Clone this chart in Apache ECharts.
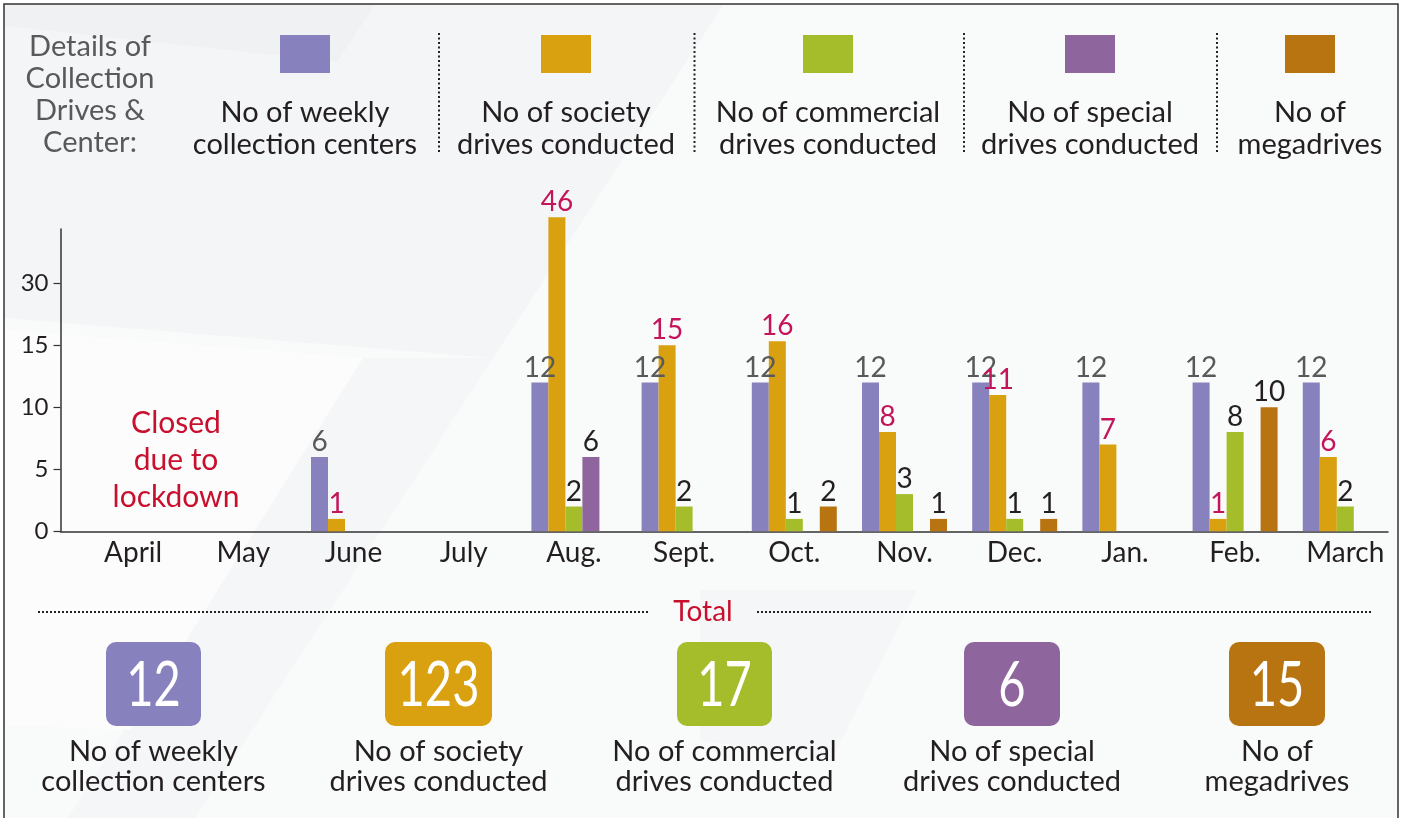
<!DOCTYPE html>
<html>
<head>
<meta charset="utf-8">
<script src="https://cdn.jsdelivr.net/npm/echarts@6/dist/echarts.min.js"></script>
<style>
html,body{margin:0;padding:0;background:#fff;}
#c{width:1405px;height:818px;}
</style>
</head>
<body>
<div id="c"></div>
<script>
// ---------------- DATA ----------------
const months = ['April','May','June','July','Aug.','Sept.','Oct.','Nov.','Dec.','Jan.','Feb.','March'];
const weekly     = [null, null, 6, null, 12, 12, 12, 12, 12, 12, 12, 12];
const society    = [null, null, 1, null, 46, 15, 16, 8, 11, 7, 1, 6];
const commercial = [null, null, null, null, 2, 2, 1, 3, 1, null, 8, 2];
const special    = [null, null, null, null, 6, null, null, null, null, null, null, null];
const mega       = [null, null, null, null, null, null, 2, 1, 1, null, 10, null];
const totals     = [12, 123, 17, 6, 15];
const seriesNames = ['No of weekly\ncollection centers', 'No of society\ndrives conducted',
                     'No of commercial\ndrives conducted', 'No of special\ndrives conducted', 'No of\nmegadrives'];
const yTickLabels = [0, 5, 10, 15, 30];
const titleText = 'Details of\nCollection\nDrives &\nCenter:';
const closedText = 'Closed\ndue to\nlockdown';
const totalText = 'Total';

// ---------------- SCALE (broken axis: above 15 compressed 3x) ----------------
const BREAK = 15, SQUEEZE = 3;
function toAxis(v){ return v == null ? null : (v <= BREAK ? v : BREAK + (v - BREAK) / SQUEEZE); }
function fromAxis(a){ return a <= BREAK ? a : BREAK + (a - BREAK) * SQUEEZE; }

// ---------------- STYLE ----------------
const FONT = 'Lato';
const colors = ['#8781bd', '#d9a00f', '#a5bd2a', '#8e659c', '#b87411'];
const labelColors = ['#58595b', '#c4145a', '#231f20', '#231f20', '#231f20'];
const seriesData = [weekly, society, commercial, special, mega];

const chart = echarts.init(document.getElementById('c'), null, {renderer: 'canvas'});

const g = [];
// background
g.push({type:'rect', z:-20, silent:true, shape:{x:0,y:0,width:1405,height:818}, style:{fill:'#ffffff'}});
g.push({type:'rect', z:-19, silent:true, shape:{x:4,y:4,width:1394,height:830}, style:{fill:'#f9fafa'}});
g.push({type:'polygon', z:-18, silent:true, shape:{points:[[4,26],[337,62],[376,4],[724,4],[493,358],[4,318]]}, style:{fill:'#f4f5f6'}});
g.push({type:'polygon', z:-18, silent:true, shape:{points:[[4,4],[376,4],[337,62],[4,26]]}, style:{fill:'#f0f1f2'}});
g.push({type:'polygon', z:-18, silent:true, shape:{points:[[363,358],[493,358],[195,818],[68,818]]}, style:{fill:'#f5f6f7'}});
g.push({type:'polygon', z:-18, silent:true, shape:{points:[[4,330],[363,358],[130,730],[4,725]]}, style:{fill:'#fcfcfc'}});
g.push({type:'polygon', z:-18, silent:true, shape:{points:[[700,590],[917,590],[831,760],[700,740]]}, style:{fill:'#f5f6f7'}});
// frame
g.push({type:'rect', z:50, silent:true, shape:{x:4,y:4,width:1394,height:830}, style:{fill:null, stroke:'#333', lineWidth:1.5}});

// top-left title
g.push({type:'text', z:10, style:{text:titleText, x:90, y:95, align:'center', verticalAlign:'middle',
  fontFamily:FONT, fontSize:29, lineHeight:32, fill:'#58595b'}});

// legend
const legendCX = [305, 566, 828, 1090, 1310];
legendCX.forEach((cx, k) => {
  g.push({type:'rect', z:10, shape:{x:cx-25, y:35, width:50, height:38}, style:{fill:colors[k]}});
  g.push({type:'text', z:10, style:{text:seriesNames[k], x:cx, y:129, align:'center', verticalAlign:'middle',
    fontFamily:FONT, fontSize:29, lineHeight:32, fill:'#231f20'}});
});
[439, 694.5, 964, 1217].forEach(x => {
  g.push({type:'line', z:10, shape:{x1:x, y1:33, x2:x, y2:153}, style:{stroke:'#222', lineWidth:2, lineDash:[2,2.5]}});
});

// closed note
g.push({type:'text', z:10, style:{text:closedText, x:176, y:460, align:'center', verticalAlign:'middle',
  fontFamily:FONT, fontSize:30, lineHeight:37, fill:'#c8102e'}});

// total header
g.push({type:'text', z:10, style:{text:totalText, x:703, y:612, align:'center', verticalAlign:'middle',
  fontFamily:FONT, fontSize:28, fill:'#c8102e'}});
g.push({type:'line', z:10, shape:{x1:38, y1:612, x2:650, y2:612}, style:{stroke:'#222', lineWidth:2, lineDash:[2,2]}});
g.push({type:'line', z:10, shape:{x1:757, y1:612, x2:1372, y2:612}, style:{stroke:'#222', lineWidth:2, lineDash:[2,2]}});

// total boxes
const boxes = [[106,201],[385,492],[677,772],[964,1060],[1229,1325]];
boxes.forEach((b, k) => {
  const cx = (b[0] + b[1]) / 2;
  g.push({type:'rect', z:10, shape:{x:b[0], y:642, width:b[1]-b[0], height:84, r:10}, style:{fill:colors[k]}});
  g.push({type:'text', z:11, x:cx, y:686, scaleX:0.76, style:{text:String(totals[k]), x:0, y:0, align:'center', verticalAlign:'middle',
    fontFamily:FONT, fontSize:62, fill:'#ffffff'}});
  g.push({type:'text', z:10, style:{text:seriesNames[k], x:cx, y:767, align:'center', verticalAlign:'middle',
    fontFamily:FONT, fontSize:29, lineHeight:30, fill:'#231f20'}});
});

const GRID_TOP = 229, GRID_BOTTOM = 818 - 531.3;
const yMax = (531.3 - 229) / 12.4;

const option = {
  animation: false,
  backgroundColor: 'transparent',
  textStyle: {fontFamily: FONT},
  graphic: {elements: g},
  grid: [
    {left: 78, right: 4.6, top: GRID_TOP, bottom: GRID_BOTTOM, containLabel: false},
    {left: 60.5, right: 17, top: GRID_TOP, bottom: GRID_BOTTOM, containLabel: false}
  ],
  xAxis: [
    {type: 'category', gridIndex: 0, data: months,
     axisLine: {show: false}, axisTick: {show: false},
     axisLabel: {fontFamily: FONT, fontSize: 28, color: '#231f20', margin: 8, interval: 0}},
    {type: 'value', gridIndex: 1, min: 0, max: 1,
     axisLine: {show: true, lineStyle: {color: '#333', width: 1.5}},
     axisTick: {show: false}, axisLabel: {show: false}, splitLine: {show: false}}
  ],
  yAxis: [
    {type: 'value', gridIndex: 0, min: 0, max: yMax, offset: 17.5,
     axisLine: {show: true, lineStyle: {color: '#333', width: 1.5}},
     axisTick: {show: true, length: 7, lineStyle: {color: '#333', width: 1.2},
                customValues: yTickLabels.map(toAxis)},
     splitLine: {show: false},
     axisLabel: {fontFamily: FONT, fontSize: 24, color: '#231f20', margin: 12,
                 customValues: yTickLabels.map(toAxis),
                 formatter: v => String(Math.round(fromAxis(v)))}},
    {type: 'value', gridIndex: 1, min: 0, max: 1, show: false}
  ],
  series: seriesData.map((arr, k) => ({
    type: 'bar',
    name: seriesNames[k],
    xAxisIndex: 0, yAxisIndex: 0,
    data: arr.map(toAxis),
    barWidth: 17,
    barGap: '0%',
    clip: false,
    itemStyle: {color: colors[k]},
    emphasis: {disabled: true},
    label: {show: true, position: 'top', distance: 1,
            formatter: p => String(arr[p.dataIndex]),
            color: labelColors[k], fontFamily: FONT, fontSize: 28}
  }))
};
chart.setOption(option);
</script>
</body>
</html>
